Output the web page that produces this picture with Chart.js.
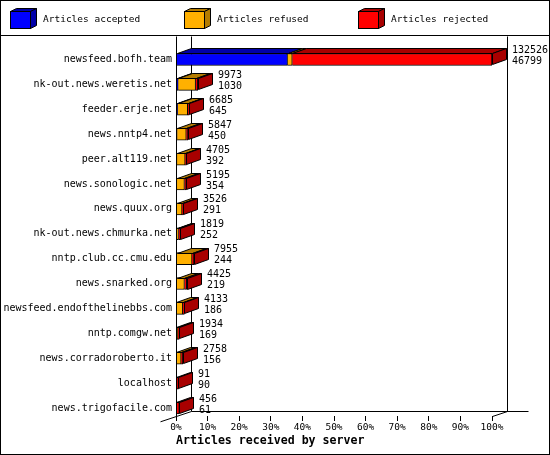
<!DOCTYPE html>
<html>
<head>
<meta charset="utf-8">
<script src="https://cdn.jsdelivr.net/npm/chart.js@4.4.1/dist/chart.umd.min.js"></script>
<style>
	body { margin: 0; background: #fff; }
	canvas { display: block; }
</style>
</head>
<body>
<canvas id="feedChart" width="550" height="455"></canvas>
<script>
// servers, top to bottom
const hosts = [
	'newsfeed.bofh.team', 'nk-out.news.weretis.net', 'feeder.erje.net', 'news.nntp4.net',
	'peer.alt119.net', 'news.sonologic.net', 'news.quux.org', 'nk-out.news.chmurka.net',
	'nntp.club.cc.cmu.edu', 'news.snarked.org', 'newsfeed.endofthelinebbs.com', 'nntp.comgw.net',
	'news.corradoroberto.it', 'localhost', 'news.trigofacile.com'
];
// numbers printed next to each bar
const offered = [132526, 9973, 6685, 5847, 4705, 5195, 3526, 1819, 7955, 4425, 4133, 1934, 2758, 91, 456];
const acceptedCount = [46799, 1030, 645, 450, 392, 354, 291, 252, 244, 219, 186, 169, 156, 90, 61];
// bar segments, % of the biggest server
const acceptedPct = [35.3, 0.7, 0.5, 0.35, 0.3, 0.27, 0.22, 0.19, 0.18, 0.17, 0.14, 0.13, 0.12, 0.07, 0.05];
const refusedPct = [1.5, 5.5, 3.2, 2.9, 2.6, 2.4, 1.7, 0.6, 4.9, 2.5, 2.0, 0.4, 1.5, 0, 0];
const rejectedPct = [63.2, 0.7, 0.5, 0.5, 0.4, 0.55, 0.4, 0.6, 0.6, 0.7, 0.5, 0.5, 0.5, 0.7, 1.0];

const seriesNames = ['Articles accepted', 'Articles refused', 'Articles rejected'];
const seriesData = [acceptedPct, refusedPct, rejectedPct];
const frontColors = ['#0000ff', '#ffb000', '#ff0000'];
const sideColors = ['#0000a8', '#b47c00', '#a80000'];

const BAR_DX = 14, BAR_DY = 5;   // bar depth
const BOX_DX = 15, BOX_DY = 5;   // back wall depth

Chart.defaults.font.family = '"DejaVu Sans Mono", monospace';
Chart.defaults.color = '#000';

function poly(ctx, pts, fill) {
	ctx.beginPath();
	ctx.moveTo(pts[0][0] + 0.5, pts[0][1] + 0.5);
	for (let i = 1; i < pts.length; i++) ctx.lineTo(pts[i][0] + 0.5, pts[i][1] + 0.5);
	ctx.closePath();
	ctx.fillStyle = fill;
	ctx.fill();
	ctx.stroke();
}

const frame3d = {
	id: 'frame3d',
	beforeDraw(chart) {
		const ctx = chart.ctx;
		ctx.save();
		ctx.fillStyle = '#fff';
		ctx.fillRect(0, 0, chart.width, chart.height);
		ctx.strokeStyle = '#000';
		ctx.lineWidth = 1;
		ctx.strokeRect(0.5, 0.5, chart.width - 1, chart.height - 1);
		ctx.beginPath();
		ctx.moveTo(0, 35.5);
		ctx.lineTo(chart.width, 35.5);
		ctx.stroke();

		// legend with little cubes
		ctx.font = '9.5px "DejaVu Sans Mono"';
		ctx.textBaseline = 'middle';
		seriesNames.forEach((name, k) => {
			const x = 10 + k * 174, y = 11, w = 20, h = 17;
			ctx.fillStyle = frontColors[k];
			ctx.fillRect(x, y, w, h);
			ctx.strokeRect(x + 0.5, y + 0.5, w, h);
			poly(ctx, [[x, y], [x + 6, y - 3], [x + w + 6, y - 3], [x + w, y]], sideColors[k]);
			poly(ctx, [[x + w, y], [x + w + 6, y - 3], [x + w + 6, y + h - 3], [x + w, y + h]], sideColors[k]);
			ctx.fillStyle = '#000';
			ctx.fillText(name, x + 33, y + 9);
		});
		ctx.restore();
	},
	beforeDatasetsDraw(chart) {
		const { ctx, chartArea: a } = chart;
		const l = Math.round(a.left) + 0.5, r = Math.round(a.right) + 0.5;
		const t = Math.round(a.top) + 0.5, b = Math.round(a.bottom) + 0.5;
		ctx.save();
		ctx.strokeStyle = '#000';
		ctx.lineWidth = 1;
		ctx.beginPath();
		ctx.moveTo(l + BOX_DX, t); ctx.lineTo(l + BOX_DX, b - BOX_DY);
		ctx.moveTo(r + BOX_DX, t); ctx.lineTo(r + BOX_DX, b - BOX_DY);
		ctx.moveTo(l + BOX_DX, b - BOX_DY); ctx.lineTo(r + 36, b - BOX_DY);
		ctx.moveTo(l + BOX_DX, b - BOX_DY); ctx.lineTo(l - 16, b + 5.3);
		ctx.moveTo(r, b); ctx.lineTo(r + BOX_DX, b - BOX_DY);
		ctx.stroke();
		ctx.restore();
	},
	afterDatasetsDraw(chart) {
		const { ctx, chartArea: a } = chart;
		const metas = seriesData.map((s, k) => chart.getDatasetMeta(k));
		ctx.save();
		ctx.strokeStyle = '#000';
		ctx.lineWidth = 1;

		// top and right faces of each bar
		hosts.forEach((h, i) => {
			let last = null;
			metas.forEach((meta, k) => {
				const el = meta.data[i];
				const x0 = Math.round(el.base), x1 = Math.round(el.x);
				const top = Math.round(el.y - el.height / 2);
				if (x1 - x0 < 1) return;
				poly(ctx, [[x0, top], [x0 + BAR_DX, top - BAR_DY], [x1 + BAR_DX, top - BAR_DY], [x1, top]], sideColors[k]);
				last = { x1, top, bottom: top + Math.round(el.height) - 1, k };
			});
			if (last) {
				poly(ctx, [[last.x1, last.top], [last.x1 + BAR_DX, last.top - BAR_DY],
					[last.x1 + BAR_DX, last.bottom - BAR_DY], [last.x1, last.bottom]], sideColors[last.k]);
			}
		});

		// front left edge
		const l = Math.round(a.left) + 0.5;
		ctx.beginPath();
		ctx.moveTo(l, Math.round(a.top) + 0.5);
		ctx.lineTo(l, Math.round(a.bottom) + 0.5);
		ctx.stroke();

		// offered / accepted numbers
		ctx.font = '10px "DejaVu Sans Mono"';
		ctx.fillStyle = '#000';
		ctx.textBaseline = 'middle';
		hosts.forEach((h, i) => {
			const el = metas[2].data[i];
			const x = Math.round(el.x) + BAR_DX + 6;
			ctx.fillText(String(offered[i]), x, el.y - 9);
			ctx.fillText(String(acceptedCount[i]), x, el.y + 2);
		});
		ctx.restore();
	}
};

new Chart(document.getElementById('feedChart'), {
	type: 'bar',
	data: {
		datasets: seriesNames.map((name, k) => ({
			label: name,
			data: hosts.map((h, i) => ({ x: seriesData[k][i], y: i })),
			backgroundColor: frontColors[k],
			borderColor: '#000',
			borderWidth: 1,
			borderSkipped: 'start',
			barThickness: 12
		}))
	},
	options: {
		indexAxis: 'y',
		responsive: false,
		devicePixelRatio: 1,
		animation: false,
		layout: { padding: { top: 36, right: 58 } },
		plugins: {
			legend: { display: false },
			tooltip: { enabled: false }
		},
		scales: {
			x: {
				type: 'linear',
				stacked: true,
				min: 0,
				max: 100,
				ticks: {
					stepSize: 10,
					maxRotation: 0,
					padding: 1,
					font: { size: 9.5 },
					callback: function(value) {
						return value + '%';
					}
				},
				grid: { drawOnChartArea: false, drawTicks: true, tickLength: 5, color: '#000' },
				border: { display: false },
				title: {
					display: true,
					text: 'Articles received by server',
					align: 'start',
					font: { size: 11.6, weight: 'bold' },
					padding: { top: 0, bottom: 7 }
				},
				afterFit: function(scale) { scale.height = 39; }
			},
			y: {
				type: 'linear',
				stacked: true,
				reverse: true,
				offset: false,
				min: -0.944,
				max: 14.322,
				ticks: {
					stepSize: 1,
					maxTicksLimit: 20,
					includeBounds: false,
					autoSkip: false,
					padding: 4,
					font: { size: 10 },
					callback: function(value) {
						return Number.isInteger(value) ? hosts[value] : '';
					}
				},
				grid: { display: false, drawTicks: false },
				border: { display: false },
				afterFit: function(scale) { scale.width = 176; }
			}
		}
	},
	plugins: [frame3d]
});
</script>
</body>
</html>
